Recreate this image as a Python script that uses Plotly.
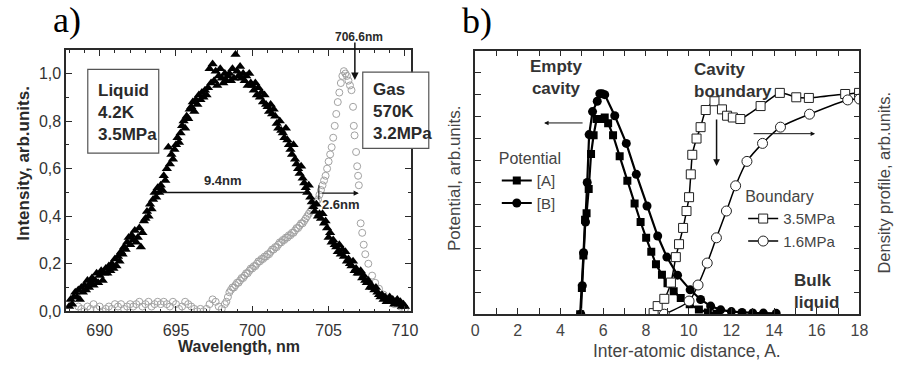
import numpy as np
import plotly.graph_objects as go

# ---------------- data: panel a (spectra) ----------------
LIQ_WL = np.round(np.arange(688.0, 710.05, 0.1), 1)
LIQ_I = [
    0.02, 0.05, 0.03, 0.06, 0.08, 0.06, 0.09, 0.05, 0.10, 0.08,
    0.11, 0.09, 0.13, 0.10, 0.12, 0.14, 0.11, 0.13, 0.16, 0.12,
    0.15, 0.17, 0.13, 0.16, 0.18, 0.16, 0.19, 0.17, 0.20, 0.18,
    0.22, 0.19, 0.23, 0.21, 0.25, 0.24, 0.27, 0.26, 0.29, 0.31,
    0.28, 0.32, 0.30, 0.34, 0.29, 0.31, 0.35, 0.27, 0.33, 0.38,
    0.39, 0.42, 0.40, 0.45, 0.43, 0.47, 0.50, 0.48, 0.52, 0.50,
    0.53, 0.51, 0.57, 0.55, 0.60, 0.69, 0.62, 0.66, 0.64, 0.68,
    0.70, 0.73, 0.71, 0.75, 0.78, 0.80, 0.77, 0.82, 0.81, 0.85,
    0.86, 0.88, 0.84, 0.89, 0.87, 0.91, 0.89, 0.92, 0.90, 0.93,
    0.91, 0.94, 1.02, 0.96, 1.04, 0.97, 1.01, 0.95, 0.99, 1.02,
    0.98, 0.96, 1.00, 0.97, 0.99, 1.00, 0.97, 1.02, 0.98, 1.08,
    1.01, 0.99, 1.03, 0.98, 1.00, 0.97, 0.99, 0.95, 1.00, 0.96,
    0.95, 0.93, 0.96, 0.91, 0.94, 0.90, 0.92, 0.88, 0.91, 0.87,
    0.86, 0.84, 0.87, 0.83, 0.85, 0.82, 0.79, 0.77, 0.80, 0.76,
    0.75, 0.73, 0.77, 0.72, 0.70, 0.68, 0.66, 0.70, 0.64, 0.62,
    0.60, 0.58, 0.61, 0.56, 0.54, 0.52, 0.50, 0.53, 0.48, 0.46,
    0.44, 0.42, 0.45, 0.40, 0.41, 0.39, 0.41, 0.37, 0.38, 0.35,
    0.31, 0.33, 0.29, 0.30, 0.28, 0.27, 0.25, 0.28, 0.24, 0.26,
    0.23, 0.25, 0.21, 0.22, 0.20, 0.19, 0.21, 0.17, 0.18, 0.16,
    0.16, 0.17, 0.14, 0.15, 0.13, 0.12, 0.13, 0.10, 0.11, 0.10,
    0.09, 0.10, 0.08, 0.07, 0.06, 0.07, 0.05, 0.06, 0.04, 0.05,
    0.06, 0.04, 0.05, 0.03, 0.04, 0.05, 0.03, 0.04, 0.02, 0.03,
    0.02,
]

GAS_WL = [
    688.6, 688.8, 689.0, 689.2, 689.4, 689.6, 689.8, 690.0, 690.2, 690.4,
    690.6, 690.8, 691.0, 691.2, 691.4, 691.6, 691.8, 692.0, 692.2, 692.4,
    692.6, 692.8, 693.0, 693.2, 693.4, 693.6, 693.8, 694.0, 694.2, 694.4,
    694.6, 694.8, 695.0, 695.2, 695.4, 695.6, 695.8, 696.0, 696.2, 696.4,
    696.6, 696.8, 697.0, 697.2, 697.4, 697.6, 697.8, 698.0, 698.2,
    698.3, 698.4, 698.5, 698.6, 698.7, 698.8, 698.9, 699.0, 699.1, 699.2,
    699.3, 699.4, 699.5, 699.6, 699.7, 699.8, 699.9, 700.0, 700.1, 700.2,
    700.3, 700.4, 700.5, 700.6, 700.7, 700.8, 700.9, 701.0, 701.1, 701.2,
    701.3, 701.4, 701.5, 701.6, 701.7, 701.8, 701.9, 702.0, 702.1, 702.2,
    702.3, 702.4, 702.5, 702.6, 702.7, 702.8, 702.9, 703.0, 703.1, 703.2,
    703.3, 703.4, 703.5, 703.6, 703.7, 703.8, 703.9, 704.0, 704.1, 704.2,
    704.3, 704.4, 704.5, 704.6, 704.7, 704.8, 704.9, 705.0, 705.1, 705.2,
    705.3, 705.4, 705.5, 705.6, 705.7, 705.8, 705.9, 706.0, 706.1,
    706.2, 706.3, 706.4, 706.5, 706.6, 706.65, 706.7, 706.8, 706.87, 706.93,
    706.98, 707.1, 707.2, 707.3, 707.4, 707.6, 707.85, 708.05, 708.3, 708.6,
    708.9, 709.3, 709.7, 710.0,
]
GAS_I = [
    0.02, 0.01, 0.00, 0.02, 0.01, 0.03, 0.01, 0.02, 0.00, 0.01,
    0.02, 0.01, 0.03, 0.02, 0.03, 0.01, 0.02, 0.03, 0.02, 0.03,
    0.04, 0.02, 0.03, 0.04, 0.02, 0.03, 0.04, 0.03, 0.04, 0.03,
    0.02, 0.04, 0.03, 0.01, 0.02, 0.04, 0.03, 0.02, 0.01, 0.00,
    0.01, 0.00, 0.01, 0.03, 0.05, 0.04, 0.02, 0.01, 0.03,
    0.04, 0.06, 0.08, 0.09, 0.10, 0.10, 0.11, 0.12, 0.12, 0.13,
    0.14, 0.14, 0.15, 0.16, 0.16, 0.17, 0.18, 0.18, 0.19, 0.19,
    0.20, 0.21, 0.21, 0.22, 0.22, 0.23, 0.23, 0.24, 0.24, 0.25,
    0.26, 0.26, 0.27, 0.27, 0.28, 0.29, 0.29, 0.30, 0.30, 0.31,
    0.31, 0.32, 0.32, 0.33, 0.33, 0.34, 0.35, 0.35, 0.36, 0.37,
    0.37, 0.38, 0.39, 0.40, 0.41, 0.42, 0.43, 0.44, 0.45, 0.46,
    0.47, 0.49, 0.51, 0.53, 0.55, 0.57, 0.60, 0.63, 0.66, 0.69,
    0.73, 0.78, 0.83, 0.88, 0.92, 0.96, 0.99, 1.01, 1.00,
    0.99, 0.97, 0.95, 0.93, 0.86, 0.78, 0.74, 0.67, 0.61, 0.57,
    0.53, 0.37, 0.33, 0.28, 0.24, 0.20, 0.15, 0.12, 0.095, 0.07,
    0.05, 0.03, 0.02, 0.01,
]

# ---------------- data: panel b (profiles) ----------------
POT_A_X = [4.92, 5.0, 5.07, 5.15, 5.22, 5.32, 5.43, 5.55, 5.69, 5.92, 6.07, 6.23,
           6.46, 6.77, 7.13, 7.47, 7.75, 8.01, 8.25, 8.47, 8.75, 9.01, 9.3, 9.63,
           10.05, 10.48, 10.9, 11.3]
POT_A_Y = [0.0, 1.19, 2.67, 4.3, 4.6, 5.7, 7.3, 8.15, 8.89, 8.89, 8.96, 8.7,
           8.15, 7.19, 6.08, 5.04, 4.2, 3.48, 2.85, 2.27, 1.8, 1.41, 1.05, 0.74,
           0.45, 0.22, 0.08, 0.02]
POT_B_X = [4.95, 5.02, 5.08, 5.17, 5.25, 5.34, 5.5, 5.72, 5.84, 5.95, 6.07, 6.54,
           7.08, 7.55, 8.05, 8.55, 8.98, 9.48, 10.07, 10.56, 11.03, 11.5, 12.0,
           12.5, 13.0, 13.5, 14.1]
POT_B_Y = [0.0, 1.3, 2.8, 4.2, 6.0, 8.18, 9.23, 9.7, 10.04, 10.04, 10.0, 9.04,
           7.78, 6.37, 4.93, 3.56, 2.6, 1.78, 1.11, 0.67, 0.37, 0.2, 0.12,
           0.08, 0.06, 0.05, 0.04]
BND35_X = [8.36, 8.55, 8.86, 9.17, 9.4, 9.55, 9.74, 9.9, 10.02, 10.1, 10.17, 10.37,
           10.56, 10.8, 11.21, 11.56, 11.8, 12.07, 12.42, 13.37, 14.27, 15.04,
           15.63, 17.33, 17.98]
BND35_Y = [0.05, 0.37, 0.7, 1.44, 2.6, 3.19, 3.93, 4.7, 5.33, 6.37, 7.26, 8.0,
           8.52, 9.3, 9.7, 9.33, 9.04, 8.96, 8.89, 9.48, 10.08, 9.88, 9.85,
           10.03, 10.08]
BND16_X = [8.86, 10.02, 10.44, 10.87, 11.3, 11.77, 12.2, 12.73, 13.46,
           14.3, 15.66, 17.45, 18.0]
BND16_Y = [0.0, 0.6, 1.33, 2.33, 3.48, 4.7, 5.85, 6.96, 7.78,
           8.52, 9.11, 9.76, 9.8]

A_XTICKS = [690, 695, 700, 705, 710]
A_YTICKS = [0.0, 0.2, 0.4, 0.6, 0.8, 1.0]
A_YTICKTEXT = ["0,0", "0,2", "0,4", "0,6", "0,8", "1,0"]
B_XTICKS = [0, 2, 4, 6, 8, 10, 12, 14, 16, 18]

# ---------------- layout helpers ----------------
W, H = 901, 372
SANS = "Liberation Sans, Arial, sans-serif"
SERIF = "Liberation Serif, Times New Roman, serif"
DARK = "#2a2a2a"
GREY = "#444444"


def px(x, y):
    return x / W, 1 - y / H


fig = go.Figure()

fig.add_trace(go.Scatter(
    x=GAS_WL, y=GAS_I, mode="markers", xaxis="x", yaxis="y", showlegend=False,
    marker=dict(symbol="circle-open", size=7, color="#a2a2a2", line=dict(width=1)),
))
fig.add_trace(go.Scatter(
    x=LIQ_WL, y=LIQ_I, mode="markers", xaxis="x", yaxis="y", showlegend=False,
    marker=dict(symbol="triangle-up", size=9, color="black"),
))

fig.add_trace(go.Scatter(
    x=POT_A_X, y=POT_A_Y, mode="lines+markers", xaxis="x2", yaxis="y2",
    name="[A]", legend="legend",
    line=dict(color="black", width=2.2),
    marker=dict(symbol="square", size=8, color="black"),
))
fig.add_trace(go.Scatter(
    x=POT_B_X, y=POT_B_Y, mode="lines+markers", xaxis="x2", yaxis="y2",
    name="[B]", legend="legend",
    line=dict(color="black", width=2.2),
    marker=dict(symbol="circle", size=9, color="black"),
))
fig.add_trace(go.Scatter(
    x=BND35_X, y=BND35_Y, mode="lines+markers", xaxis="x2", yaxis="y2",
    name="3.5MPa", legend="legend2",
    line=dict(color="black", width=1.5, shape="spline", smoothing=0.6),
    marker=dict(symbol="square", size=9, color="white", line=dict(color="#222", width=1)),
))
fig.add_trace(go.Scatter(
    x=BND16_X, y=BND16_Y, mode="lines+markers", xaxis="x2", yaxis="y2",
    name="1.6MPa", legend="legend2",
    line=dict(color="black", width=1.5, shape="spline", smoothing=0.8),
    marker=dict(symbol="circle", size=10, color="white", line=dict(color="#222", width=1)),
))

axis_common = dict(
    showline=True, linecolor=DARK, linewidth=1.5, mirror="ticks",
    ticks="inside", ticklen=6, tickwidth=1.2, tickcolor=DARK,
    showgrid=False, zeroline=False, fixedrange=True,
)

fig.update_layout(
    width=W, height=H, margin=dict(l=0, r=0, t=0, b=0),
    paper_bgcolor="white", plot_bgcolor="white",
    font=dict(family=SANS, size=15, color=DARK),
    xaxis=dict(domain=[63 / W, 413 / W], anchor="y", range=[687.8, 710.4],
               tickvals=A_XTICKS, tickfont=dict(size=16, color="#333"),
               ticklabelstandoff=4,
               minor=dict(dtick=1, ticks="inside", ticklen=3, tickcolor=DARK),
               **axis_common),
    yaxis=dict(domain=[1 - 319 / H, 1 - 51 / H], anchor="x", range=[0, 1.1],
               tickvals=A_YTICKS, ticktext=A_YTICKTEXT, tickfont=dict(size=16, color="#333"),
               minor=dict(dtick=0.1, ticks="inside", ticklen=3, tickcolor=DARK),
               **axis_common),
    xaxis2=dict(domain=[478 / W, 868 / W], anchor="y2", range=[0, 18],
                tickvals=B_XTICKS, tickfont=dict(size=16, color=GREY),
                ticklabelstandoff=1,
                minor=dict(dtick=1, ticks="inside", ticklen=6, tickcolor=DARK),
                **axis_common),
    yaxis2=dict(domain=[1 - 322 / H, 1 - 52 / H], anchor="x2", range=[0, 12],
                dtick=1, showticklabels=False, **axis_common),
    legend=dict(x=px(500, 0)[0], y=px(0, 147)[1], xanchor="left", yanchor="top",
                title=dict(text="Potential", font=dict(size=16, color=GREY)),
                font=dict(size=15, color=GREY), bgcolor="rgba(0,0,0,0)",
                tracegroupgap=0, itemwidth=30),
    legend2=dict(x=px(750, 0)[0], y=px(0, 186)[1], xanchor="left", yanchor="top",
                 title=dict(text="Boundary", font=dict(size=16, color=GREY)),
                 font=dict(size=15, color=GREY), bgcolor="rgba(0,0,0,0)",
                 tracegroupgap=0, itemwidth=30),
)

annotations = []


def text(x, y, s, size=15, bold=False, color=DARK, family=SANS, angle=0,
         xanchor="center", align="center"):
    ax_, ay_ = px(x, y)
    annotations.append(dict(
        x=ax_, y=ay_, xref="paper", yref="paper", text=f"<b>{s}</b>" if bold else s,
        showarrow=False, font=dict(size=size, color=color, family=family),
        textangle=angle, xanchor=xanchor, yanchor="middle", align=align,
    ))


def arrow(x0, y0, x1, y1, width=1.0, size=1.0):
    hx, hy = px(x1, y1)
    annotations.append(dict(
        x=hx, y=hy, xref="paper", yref="paper", ax=x0 - x1, ay=y0 - y1,
        axref="pixel", ayref="pixel", showarrow=True, arrowhead=2,
        arrowsize=size, arrowwidth=width, arrowcolor="#111", text="",
    ))


# panel labels
text(64, 20, "a)", size=36, family=SERIF, color="black")
text(480, 22, "b)", size=36, family=SERIF, color="black")

# panel a texts
text(238, 355, "Wavelength, nm", size=16, bold=True)
text(20, 167, "Intensity, arb.units.", size=17, bold=True, angle=-90)
text(93, 115, "Liquid<br>4.2K<br>3.5MPa", size=17, bold=True, xanchor="left", align="left")
text(372, 114, "Gas<br>570K<br>3.2MPa", size=17, bold=True, xanchor="left", align="left")
text(360, 38, "706.6nm", size=12, bold=True)
text(222, 185, "9.4nm", size=13, bold=True)
text(342, 210, "2.6nm", size=13, bold=True)
arrow(356, 43, 356, 82, width=1.5)
arrow(322, 198, 360, 198, width=1.3, size=0.8)

# panel b texts
text(693, 360, "Inter-atomic distance, A.", size=17.5, color=GREY)
text(457, 182, "Potential, arb.units.", size=17, color=GREY, angle=-90)
text(893, 187, "Density profile, arb.units.", size=16.5, color=GREY, angle=-90)
text(561, 79, "Empty<br>cavity", size=17, bold=True, color="#333")
text(698, 82, "Cavity<br>boundary", size=17, bold=True, color="#333", xanchor="left", align="left")
text(800, 299, "Bulk<br>liquid", size=17, bold=True, color="#333", xanchor="left", align="left")
arrow(588, 126, 548, 126, width=1.0, size=0.9)
arrow(723, 122, 723, 170, width=1.5, size=0.9)
arrow(760, 137, 823, 137, width=1.0, size=0.9)

fig.update_layout(annotations=annotations)

# boxes and FWHM line (panel a)
x0, y0 = px(85, 71); x1, y1 = px(157, 157)
fig.add_shape(type="rect", xref="paper", yref="paper", x0=x0, y0=y1, x1=x1, y1=y0,
              line=dict(color="#555", width=1.2), fillcolor="white", layer="below")
x0, y0 = px(364, 74); x1, y1 = px(431, 152)
fig.add_shape(type="rect", xref="paper", yref="paper", x0=x0, y0=y1, x1=x1, y1=y0,
              line=dict(color="#555", width=1.2), fillcolor="white", layer="above")
fig.add_shape(type="line", xref="x", yref="y", x0=694.1, x1=703.5, y0=0.5, y1=0.5,
              line=dict(color="#111", width=1.5))
fig.add_shape(type="line", xref="x", yref="y", x0=704.36, x1=704.36, y0=0.47, y1=0.53,
              line=dict(color="#111", width=1))

fig.write_html("out.html")
